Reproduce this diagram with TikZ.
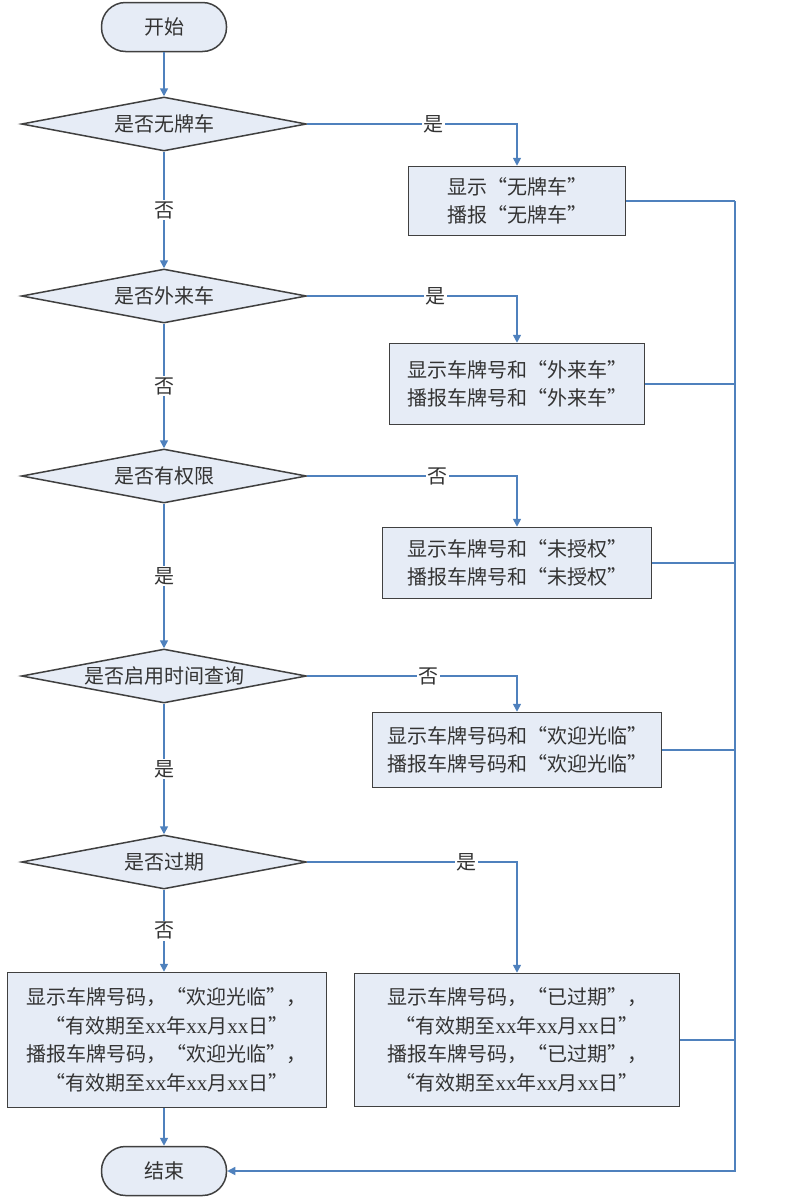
\documentclass[tikz,border=0pt]{standalone}
\usepackage{fontspec}
\setmainfont{Liberation Serif}
\newfontfamily\cjk[RawFeature=+fwid]{Noto Sans CJK SC}
\usetikzlibrary{shapes.geometric,arrows.meta}
\definecolor{fillc}{HTML}{E6ECF6}
\definecolor{linec}{HTML}{4F81BD}
\definecolor{bordc}{HTML}{404040}
\newcommand\xx{{\rmfamily\fontsize{21}{28}\selectfont xx}}
\begin{document}
\begin{tikzpicture}[x=1pt,y=-1pt,
  base/.style={draw=bordc, fill=fillc, line width=1.5pt, font=\cjk\fontsize{20}{28.5}\selectfont, text=black!80, inner sep=0pt},
  term/.style={base, rectangle, rounded corners=24pt, minimum width=125pt, minimum height=49pt},
  decision/.style={base, diamond, aspect=5.28, minimum width=285pt, minimum height=54pt},
  proc/.style={base, rectangle, align=center},
  link/.style={draw=linec, line width=1.6pt},
  flow/.style={link, -{Triangle[width=8pt,length=8pt]}},
  lab/.style={fill=white, inner sep=1.5pt, font=\cjk\fontsize{20}{22}\selectfont, text=black!80}]
\useasboundingbox (0,0) rectangle (790,1200);

\node[term] (start) at (164,27) {开始};
\node[decision] (d1) at (164,124) {是否无牌车};
\node[decision] (d2) at (164,296) {是否外来车};
\node[decision] (d3) at (164,476) {是否有权限};
\node[decision] (d4) at (164,676) {是否启用时间查询};
\node[decision] (d5) at (164,862) {是否过期};

\node[proc, minimum width=217pt, minimum height=69pt] (b1) at (517,201) {显示“无牌车”\\播报“无牌车”};
\node[proc, minimum width=255pt, minimum height=81pt] (b2) at (517,384) {显示车牌号和“外来车”\\播报车牌号和“外来车”};
\node[proc, minimum width=269pt, minimum height=71pt] (b3) at (517,563) {显示车牌号和“未授权”\\播报车牌号和“未授权”};
\node[proc, minimum width=289pt, minimum height=75pt] (b4) at (517,750) {显示车牌号码和“欢迎光临”\\播报车牌号码和“欢迎光临”};
\node[proc, minimum width=325pt, minimum height=133pt] (b5) at (517,1040) {显示车牌号码，“已过期”，\\“有效期至\xx 年\xx 月\xx 日”\\播报车牌号码，“已过期”，\\“有效期至\xx 年\xx 月\xx 日”};
\node[proc, minimum width=319pt, minimum height=135pt] (b6) at (167,1040) {显示车牌号码，“欢迎光临”，\\“有效期至\xx 年\xx 月\xx 日”\\播报车牌号码，“欢迎光临”，\\“有效期至\xx 年\xx 月\xx 日”};

\node[term] (end) at (164,1171) {结束};

\coordinate (bustop) at (735,201);
\coordinate (busbot) at (735,1171);

% main column
\draw[flow] (start) -- (d1);
\draw[flow] (d1) -- node[lab]{否} (d2);
\draw[flow] (d2) -- node[lab]{否} (d3);
\draw[flow] (d3) -- node[lab]{是} (d4);
\draw[flow] (d4) -- node[lab]{是} (d5);
\draw[flow] (d5.south) -- node[lab]{否} (d5.south |- b6.north);
\draw[flow] (b6.south -| d5.south) -- (end);

% branches
\draw[flow] (d1.east) -- node[lab, pos=0.6]{是} (d1.east -| b1.north) -- (b1.north);
\draw[flow] (d2.east) -- node[lab, pos=0.61]{是} (d2.east -| b2.north) -- (b2.north);
\draw[flow] (d3.east) -- node[lab, pos=0.62]{否} (d3.east -| b3.north) -- (b3.north);
\draw[flow] (d4.east) -- node[lab, pos=0.58]{否} (d4.east -| b4.north) -- (b4.north);
\draw[flow] (d5.east) -- node[lab, pos=0.76]{是} (d5.east -| b5.north) -- (b5.north);

% return bus
\draw[link] (b1.east) -- (bustop);
\draw[link] (b2.east) -- (b2.east -| bustop);
\draw[link] (b3.east) -- (b3.east -| bustop);
\draw[link] (b4.east) -- (b4.east -| bustop);
\draw[link] (b5.east) -- (b5.east -| bustop);
\draw[flow] (bustop) -- (busbot) -- (end.east);
\end{tikzpicture}
\end{document}
